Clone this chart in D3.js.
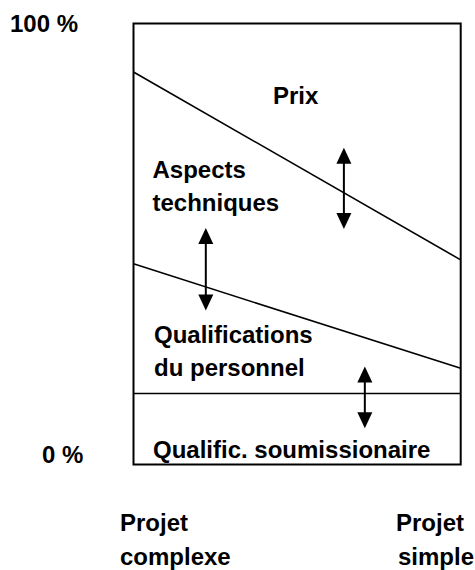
<!DOCTYPE html>
<html>
<head>
<meta charset="utf-8">
<script src="https://cdn.jsdelivr.net/npm/d3@7"></script>
<style>
  body { margin: 0; background: #fff; }
  text { font-family: "Liberation Sans", Arial, sans-serif; font-weight: bold; font-size: 24px; fill: #000; }
</style>
</head>
<body>
<div id="chart"></div>
<script>
// project type at each end of the horizontal axis (0 = complexe, 1 = simple)
const projectEnds = [0, 1];
const projectLabels = [['Projet', 'complexe'], ['Projet', 'simple']];
const yTickValues = [0, 100];
const yTickLabels = ['0 %', '100 %'];

// cumulative share (%) of each boundary, left end and right end
const prixBoundary = [89, 46.4];
const techBoundary = [45.5, 21.8];
const persBoundary = [16.1, 16.1];

// double arrows: x position (0..1) and the % range they span
const arrowX = [0.643, 0.221, 0.707];
const arrowTop = [71.8, 53.6, 22.2];
const arrowBottom = [53.4, 34.9, 8.2];

const zoneLabels = [['Prix'], ['Aspects', 'techniques'], ['Qualifications', 'du personnel'], ['Qualific. soumissionaire']];

var width = 475, height = 570;
var x = d3.scaleLinear().domain([0, 1]).range([133.5, 460.7]);
var y = d3.scaleLinear().domain([0, 100]).range([464.5, 23.5]);

var svg = d3.select('#chart').append('svg')
  .attr('width', width)
  .attr('height', height);

// frame
svg.append('rect')
  .attr('x', x(0)).attr('y', y(100))
  .attr('width', x(1) - x(0)).attr('height', y(0) - y(100))
  .attr('fill', 'none').attr('stroke', '#000').attr('stroke-width', 2);

// boundaries between the zones
var line = d3.line().x((d, i) => x(projectEnds[i])).y(d => y(d));
[prixBoundary, techBoundary, persBoundary].forEach(function(b) {
  svg.append('path')
    .attr('d', line(b))
    .attr('fill', 'none').attr('stroke', '#000').attr('stroke-width', 1.6);
});

// arrows
var headLen = 16, headHalf = 7.5;
arrowX.forEach(function(ax, i) {
  var px = x(ax), t = y(arrowTop[i]), b = y(arrowBottom[i]);
  svg.append('line')
    .attr('x1', px).attr('x2', px)
    .attr('y1', t + headLen - 1).attr('y2', b - headLen + 1)
    .attr('stroke', '#000').attr('stroke-width', 2);
  svg.append('path')
    .attr('d', 'M' + px + ',' + t + 'L' + (px - headHalf) + ',' + (t + headLen) + 'L' + (px + headHalf) + ',' + (t + headLen) + 'Z')
    .attr('fill', '#000');
  svg.append('path')
    .attr('d', 'M' + px + ',' + b + 'L' + (px - headHalf) + ',' + (b - headLen) + 'L' + (px + headHalf) + ',' + (b - headLen) + 'Z')
    .attr('fill', '#000');
});

// y labels
svg.append('text').attr('x', 10).attr('y', 31.5).text(yTickLabels[1]);
svg.append('text').attr('x', 42).attr('y', 463).text(yTickLabels[0]);

// zone labels (left edge, first baseline)
var zonePos = [[273, 104], [152.5, 178.3], [154, 343], [153, 458]];
var lineGap = 33;
zoneLabels.forEach(function(lines, i) {
  var t = svg.append('text').attr('x', zonePos[i][0]).attr('y', zonePos[i][1]);
  lines.forEach(function(s, j) {
    t.append('tspan').attr('x', zonePos[i][0]).attr('dy', j ? lineGap : 0).text(s);
  });
});

// project labels under the frame
var projPos = [[120, 120], [396, 398]];
projectLabels.forEach(function(lines, i) {
  lines.forEach(function(s, j) {
    svg.append('text')
      .attr('x', projPos[i][j])
      .attr('y', 531 + j * 34)
      .text(s);
  });
});
</script>
</body>
</html>
